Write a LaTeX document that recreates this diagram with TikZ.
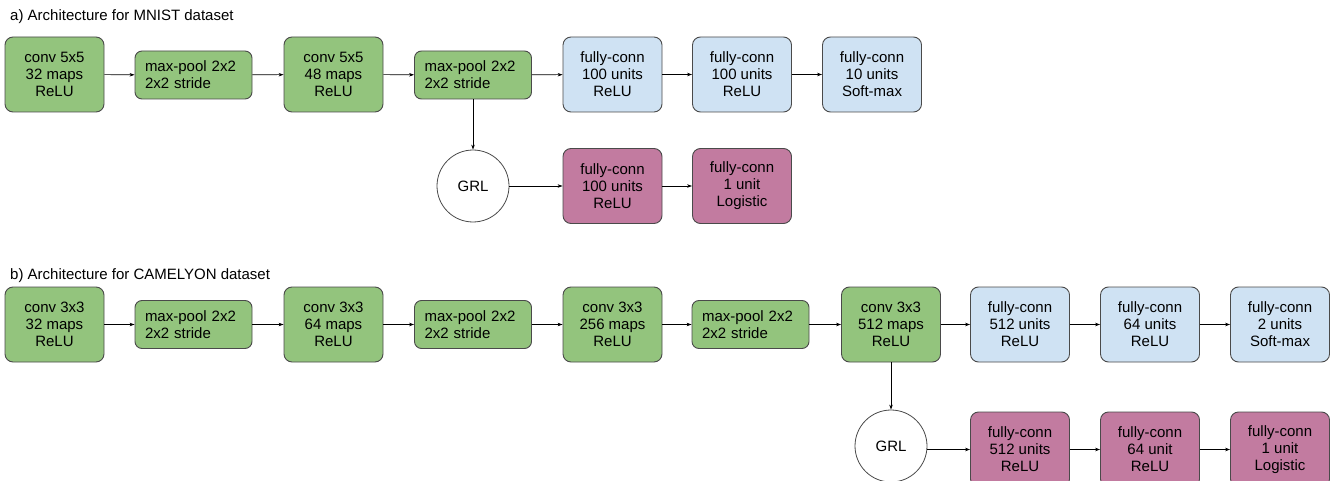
\documentclass[tikz,border=0pt]{standalone}
\usepackage{fontspec}
\setmainfont{Liberation Sans}
\usetikzlibrary{arrows.meta}

\definecolor{convgreen}{HTML}{93C47D}
\definecolor{fcblue}{HTML}{CFE2F3}
\definecolor{fcpink}{HTML}{C27BA0}
\definecolor{edgegray}{HTML}{4A4A4A}

\begin{document}
\begin{tikzpicture}[x=1pt,y=-1pt,
  every node/.style={font=\fontsize{15}{17}\selectfont},
  block/.style={draw=edgegray, line width=0.9pt, rounded corners=8pt, minimum width=99pt, minimum height=75pt, align=center, inner sep=2pt},
  conv/.style={block, fill=convgreen},
  fc/.style={block, fill=fcblue},
  dom/.style={block, fill=fcpink},
  pool/.style={draw=edgegray, line width=0.9pt, fill=convgreen, rounded corners=7pt, minimum height=48pt, text width=97pt, inner xsep=10pt, align=left},
  grl/.style={circle, draw=edgegray, line width=0.8pt, fill=white, minimum size=72pt, inner sep=0pt},
  link/.style={-{Stealth[length=5pt,width=3.5pt]}, line width=0.6pt}]
\useasboundingbox (0,0) rectangle (1330,481);

% a) MNIST
\node [anchor=base west, inner sep=0pt] (titleA) at (10,21) {a) Architecture for MNIST dataset};

\node [conv] (a1) at (54.5,74.5) {conv 5x5\\ 32 maps\\ ReLU};
\node [pool] (a2) at (193.5,75) {max-pool 2x2\\ 2x2 stride};
\node [conv] (a3) at (333.5,74.5) {conv 5x5\\ 48 maps\\ ReLU};
\node [pool] (a4) at (473,75) {max-pool 2x2\\ 2x2 stride};
\node [fc] (a5) at (612.5,74.5) {fully-conn\\ 100 units\\ ReLU};
\node [fc] (a6) at (742,74.5) {fully-conn\\ 100 units\\ ReLU};
\node [fc] (a7) at (872,74.5) {fully-conn\\ 10 units\\ Soft-max};

\node [grl] (agrl) at (473,186) {GRL};
\node [dom] (ad1) at (612.5,186) {fully-conn\\ 100 units\\ ReLU};
\node [dom] (ad2) at (742,186) {fully-conn\\ 1 unit\\ Logistic};

\draw [link] (a1) -- (a2);
\draw [link] (a2) -- (a3);
\draw [link] (a3) -- (a4);
\draw [link] (a4) -- (a5);
\draw [link] (a5) -- (a6);
\draw [link] (a6) -- (a7);
\draw [link] (a4) -- (agrl);
\draw [link] (agrl) -- (ad1);
\draw [link] (ad1) -- (ad2);

% b) CAMELYON
\node [anchor=base west, inner sep=0pt] (titleB) at (10,279) {b) Architecture for CAMELYON dataset};

\node [conv] (b1) at (54.5,324.5) {conv 3x3\\ 32 maps\\ ReLU};
\node [pool] (b2) at (193.5,324.5) {max-pool 2x2\\ 2x2 stride};
\node [conv] (b3) at (333.5,324.5) {conv 3x3\\ 64 maps\\ ReLU};
\node [pool] (b4) at (473,324.5) {max-pool 2x2\\ 2x2 stride};
\node [conv] (b5) at (612.5,324.5) {conv 3x3\\ 256 maps\\ ReLU};
\node [pool] (b6) at (750.5,324.5) {max-pool 2x2\\ 2x2 stride};
\node [conv] (b7) at (891,324.5) {conv 3x3\\ 512 maps\\ ReLU};
\node [fc] (b8) at (1020,324.5) {fully-conn\\ 512 units\\ ReLU};
\node [fc] (b9) at (1150,324.5) {fully-conn\\ 64 units\\ ReLU};
\node [fc] (b10) at (1280,324.5) {fully-conn\\ 2 units\\ Soft-max};

\node [grl] (bgrl) at (891,446) {GRL};
\node [dom] (bd1) at (1020,449.5) {fully-conn\\ 512 units\\ ReLU};
\node [dom] (bd2) at (1150,449.5) {fully-conn\\ 64 unit\\ ReLU};
\node [dom] (bd3) at (1280,449.5) {fully-conn\\ 1 unit\\ Logistic};

\draw [link] (b1) -- (b2);
\draw [link] (b2) -- (b3);
\draw [link] (b3) -- (b4);
\draw [link] (b4) -- (b5);
\draw [link] (b5) -- (b6);
\draw [link] (b6) -- (b7);
\draw [link] (b7) -- (b8);
\draw [link] (b8) -- (b9);
\draw [link] (b9) -- (b10);
\draw [link] (b7) -- (bgrl);
\draw [link] (bgrl.east |- bd1) -- (bd1);
\draw [link] (bd1) -- (bd2);
\draw [link] (bd2) -- (bd3);
\end{tikzpicture}
\end{document}
